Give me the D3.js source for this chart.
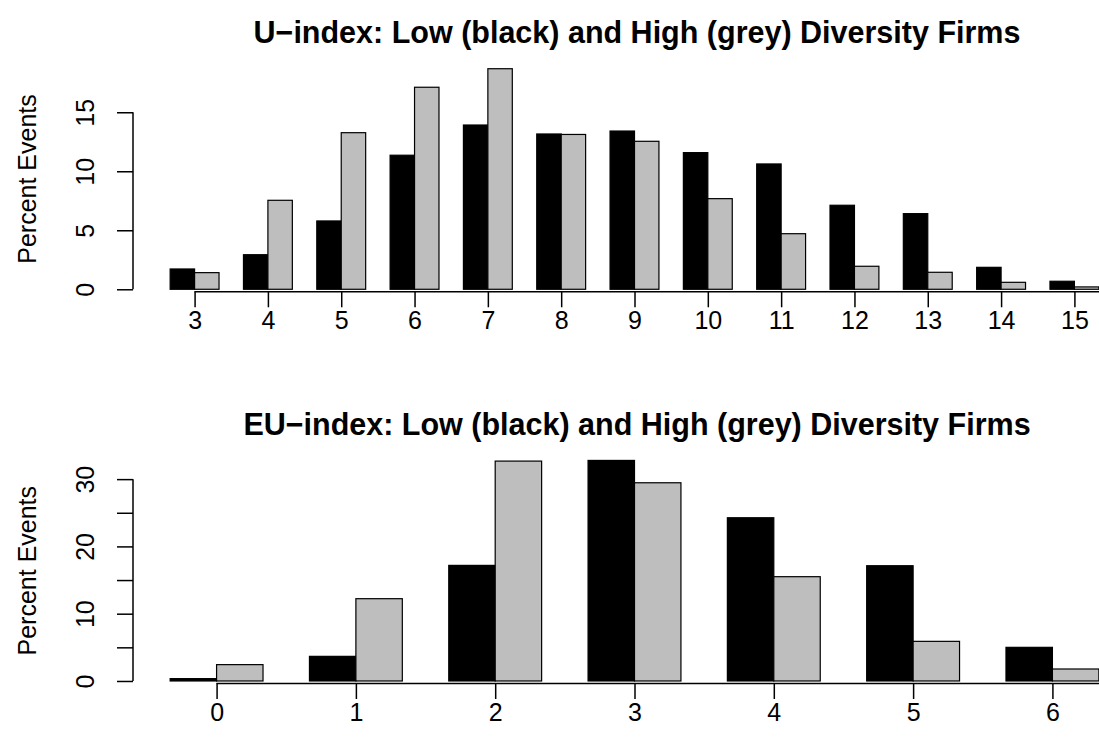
<!DOCTYPE html>
<html>
<head>
<meta charset="utf-8">
<script src="https://cdn.jsdelivr.net/npm/d3@7"></script>
<style>
  html, body { margin: 0; padding: 0; background: #fff; }
  svg { display: block; }
  text { font-family: "Liberation Sans", Arial, Helvetica, sans-serif; fill: #000; }
</style>
</head>
<body>
<script>
// U-index distribution, percent of events by index value
const uCategories = [3, 4, 5, 6, 7, 8, 9, 10, 11, 12, 13, 14, 15];
const uLow  = [1.72, 2.93, 5.79, 11.36, 13.92, 13.16, 13.41, 11.58, 10.62, 7.12, 6.41, 1.86, 0.68];
const uHigh = [1.41, 7.54, 13.27, 17.12, 18.69, 13.12, 12.54, 7.68, 4.71, 1.95, 1.44, 0.59, 0.20];
const uTicks = [0, 5, 10, 15];

// EU-index distribution, percent of events by index value
const euCategories = [0, 1, 2, 3, 4, 5, 6];
const euLow  = [0.35, 3.66, 17.18, 32.78, 24.26, 17.13, 5.00];
const euHigh = [2.43, 12.23, 32.68, 29.46, 15.50, 5.89, 1.78];
const euTicks = [0, 5, 10, 15, 20, 25, 30];
const euTickLabels = ["0", "", "10", "", "20", "", "30"];

const W = 1099, H = 742;
const BASE = 25;                      // base font size in px
const svg = d3.select("body").append("svg").attr("width", W).attr("height", H);

// Draws one grouped barplot panel (low = black, high = grey, space 1 between groups)
function panel(opts) {
  const { cats, low, high, ticks, tickLabels, title, top, bottom, titleY } = opts;
  const n = cats.length;
  const span = 3 * n - 1;               // bars from unit 1 to 3n
  const pad = 0.04 * span;
  const x = d3.scaleLinear()
    .domain([1 - pad, 3 * n + pad])
    .range([133, 1136]);
  const ymax = d3.max(low.concat(high));
  const ypad = 0.04 * ymax;
  const y = d3.scaleLinear()
    .domain([-ypad, ymax + ypad])
    .range([bottom, top]);

  const g = svg.append("g");

  const rows = cats.map((c, i) => ({ c, i, low: low[i], high: high[i] }));

  // black (low diversity) bars
  g.selectAll("rect.low").data(rows).enter().append("rect")
    .attr("class", "low")
    .attr("x", d => x(1 + 3 * d.i))
    .attr("width", d => x(2 + 3 * d.i) - x(1 + 3 * d.i))
    .attr("y", d => y(d.low))
    .attr("height", d => y(0) - y(d.low))
    .attr("fill", "#000").attr("stroke", "#000").attr("stroke-width", 1.2);

  // grey (high diversity) bars
  g.selectAll("rect.high").data(rows).enter().append("rect")
    .attr("class", "high")
    .attr("x", d => x(2 + 3 * d.i))
    .attr("width", d => x(3 + 3 * d.i) - x(2 + 3 * d.i))
    .attr("y", d => y(d.high))
    .attr("height", d => y(0) - y(d.high))
    .attr("fill", "#bebebe").attr("stroke", "#000").attr("stroke-width", 1.2);

  // x axis: ticks at the middle of each pair
  const xAxisY = y(0) + 2;
  const xAxis = d3.axisBottom(x)
    .tickValues(rows.map(d => 2 + 3 * d.i))
    .tickFormat((v, i) => String(cats[i]))
    .tickSize(16).tickSizeOuter(0);
  const gx = g.append("g").attr("transform", `translate(0,${xAxisY})`).call(xAxis);
  gx.attr("font-size", null).attr("font-family", null);
  gx.select(".domain").remove();
  gx.append("line")
    .attr("x1", x(2)).attr("x2", x(3 * n + pad))
    .attr("y1", 0.5).attr("y2", 0.5)
    .attr("stroke", "#000").attr("stroke-width", 1.5);
  gx.selectAll(".tick line").attr("stroke", "#000").attr("stroke-width", 1.5);
  gx.selectAll(".tick text")
    .attr("y", 38).attr("dy", null)
    .style("font-size", BASE + "px");

  // y axis with rotated labels
  const yAxis = d3.axisLeft(y).tickValues(ticks)
    .tickFormat((v, i) => tickLabels ? tickLabels[i] : String(v))
    .tickSize(16).tickSizeOuter(0);
  const gy = g.append("g").attr("transform", "translate(133,0)").call(yAxis);
  gy.attr("font-size", null).attr("font-family", null);
  gy.select(".domain").remove();
  gy.append("line")
    .attr("x1", 0).attr("x2", 0)
    .attr("y1", y(ticks[0])).attr("y2", y(ticks[ticks.length - 1]))
    .attr("stroke", "#000").attr("stroke-width", 1.5);
  gy.selectAll(".tick line").attr("stroke", "#000").attr("stroke-width", 1.5);
  gy.selectAll(".tick text")
    .attr("x", null).attr("dy", null)
    .attr("transform", "translate(-39,0) rotate(-90)")
    .attr("text-anchor", "middle")
    .style("font-size", BASE + "px");

  // y axis title, centred on the plot region
  g.append("text")
    .attr("transform", `translate(36,${(top + bottom) / 2}) rotate(-90)`)
    .attr("text-anchor", "middle")
    .style("font-size", BASE + "px")
    .text("Percent Events");

  // panel title
  g.append("text")
    .attr("x", 637)
    .attr("y", titleY)
    .attr("text-anchor", "middle")
    .attr("dominant-baseline", "central")
    .style("font-size", (BASE * 1.22) + "px")
    .attr("font-weight", "bold")
    .text(title);
}

panel({
  cats: uCategories, low: uLow, high: uHigh, ticks: uTicks,
  title: "U\u2212index: Low (black) and High (grey) Diversity Firms",
  top: 59.9, bottom: 298.1, titleY: 32
});

panel({
  cats: euCategories, low: euLow, high: euHigh, ticks: euTicks, tickLabels: euTickLabels,
  title: "EU\u2212index: Low (black) and High (grey) Diversity Firms",
  top: 451.6, bottom: 689.8, titleY: 424
});
</script>
</body>
</html>
